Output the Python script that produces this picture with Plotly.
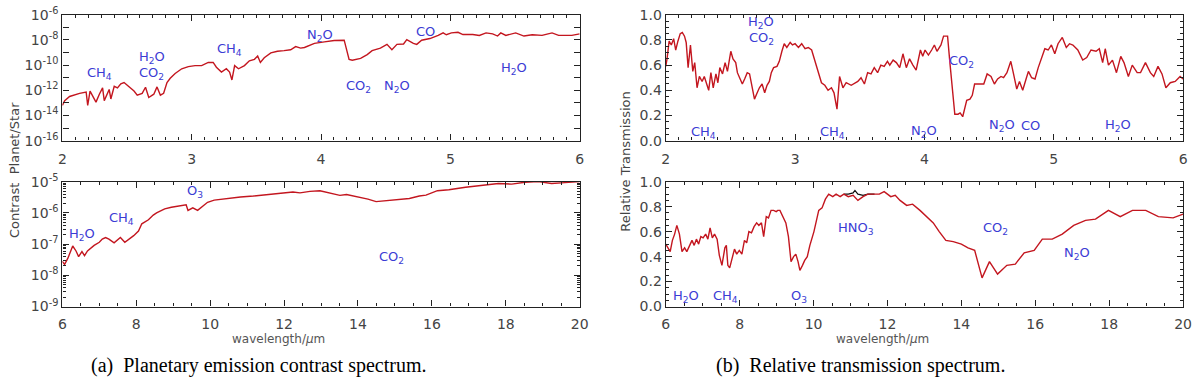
import plotly.graph_objects as go

# ---------------- data ----------------
# (a) top: planetary emission contrast, 2-6 um (log10 of contrast)
em_short_wl = [2.000, 2.018, 2.056, 2.133, 2.184, 2.196, 2.214, 2.235, 2.260, 2.286, 2.311, 2.324, 2.349,
               2.362, 2.375, 2.401, 2.426, 2.452, 2.477, 2.515, 2.554, 2.579, 2.617, 2.643, 2.668, 2.707,
               2.732, 2.758, 2.783, 2.809, 2.834, 2.872, 2.923, 2.974, 3.026, 3.077, 3.128, 3.166, 3.191,
               3.230, 3.268, 3.293, 3.311, 3.332, 3.362, 3.408, 3.446, 3.485, 3.510, 3.531, 3.561, 3.612,
               3.663, 3.714, 3.765, 3.804, 3.842, 3.872, 3.949, 4.026, 4.102, 4.179, 4.217, 4.242, 4.306,
               4.357, 4.395, 4.459, 4.510, 4.548, 4.587, 4.638, 4.663, 4.714, 4.740, 4.778, 4.842, 4.906,
               4.944, 4.969, 5.008, 5.059, 5.097, 5.173, 5.224, 5.276, 5.327, 5.365, 5.390, 5.429, 5.505,
               5.569, 5.633, 5.709, 5.786, 5.837, 5.939, 6.000]
em_short_log = [-13.20, -12.82, -12.49, -12.24, -12.14, -13.20, -12.06, -12.44, -12.94, -12.31, -11.81, -12.82,
                -12.31, -11.93, -12.69, -11.68, -11.81, -11.48, -11.38, -11.68, -12.06, -12.39, -12.24, -11.76,
                -12.57, -12.31, -11.73, -12.39, -12.24, -11.38, -11.05, -10.67, -10.29, -10.12, -10.04, -10.04,
                -9.79, -9.79, -10.17, -10.55, -10.29, -10.55, -11.18, -10.04, -10.29, -10.04, -9.66, -9.54,
                -9.28, -9.79, -9.41, -9.03, -8.90, -8.85, -8.78, -8.53, -8.65, -8.60, -8.27, -8.15, -8.05,
                -8.02, -9.54, -9.61, -9.46, -9.16, -8.85, -8.65, -8.35, -8.78, -8.35, -8.32, -7.97, -8.27,
                -8.35, -8.02, -7.89, -7.64, -7.44, -7.59, -7.44, -7.39, -7.57, -7.57, -7.64, -7.44, -7.52,
                -7.69, -7.44, -7.64, -7.44, -7.69, -7.59, -7.64, -7.44, -7.64, -7.64, -7.52]

# (a) bottom: 6-20 um (log10 of contrast)
em_long_wl = [6.00, 6.06, 6.15, 6.28, 6.37, 6.44, 6.53, 6.60, 6.68, 6.75, 6.86, 7.00, 7.08, 7.17, 7.26, 7.40,
              7.48, 7.57, 7.69, 7.80, 7.93, 8.06, 8.15, 8.33, 8.46, 8.55, 8.64, 8.77, 8.95, 9.13, 9.35, 9.40,
              9.53, 9.66, 9.80, 9.93, 10.11, 10.46, 10.82, 11.17, 11.53, 11.88, 12.24, 12.43, 12.70, 12.97,
              13.24, 13.51, 13.69, 14.04, 14.27, 14.49, 14.76, 15.12, 15.39, 15.66, 15.84, 16.15, 16.46,
              16.91, 17.45, 17.80, 18.16, 18.52, 18.88, 19.24, 19.60, 20.00]
em_long_log = [-7.55, -7.65, -7.45, -7.06, -7.22, -7.40, -7.24, -7.37, -7.22, -7.14, -7.04, -6.94, -6.84, -6.79,
               -6.84, -6.96, -6.89, -6.79, -6.94, -6.84, -6.73, -6.58, -6.35, -6.22, -6.07, -6.00, -5.94, -5.87,
               -5.82, -5.79, -5.74, -5.92, -5.84, -5.92, -5.77, -5.66, -5.59, -5.53, -5.49, -5.46, -5.41, -5.37,
               -5.33, -5.36, -5.31, -5.29, -5.36, -5.44, -5.41, -5.49, -5.56, -5.64, -5.61, -5.56, -5.54, -5.46,
               -5.43, -5.29, -5.26, -5.18, -5.12, -5.06, -5.08, -5.02, -5.00, -5.06, -5.03, -5.00]

# (b) top: relative transmission, 2-6 um
tr_short_wl = [2.000, 2.010, 2.026, 2.043, 2.061, 2.077, 2.094, 2.112, 2.128, 2.145, 2.158, 2.173, 2.191, 2.209,
               2.224, 2.242, 2.260, 2.281, 2.298, 2.316, 2.332, 2.349, 2.367, 2.388, 2.403, 2.418, 2.439, 2.459,
               2.477, 2.503, 2.520, 2.541, 2.554, 2.571, 2.592, 2.610, 2.630, 2.648, 2.668, 2.686, 2.707, 2.724,
               2.745, 2.765, 2.783, 2.801, 2.816, 2.834, 2.860, 2.878, 2.898, 2.916, 2.936, 2.962, 2.980, 3.000,
               3.026, 3.051, 3.077, 3.102, 3.128, 3.153, 3.179, 3.204, 3.230, 3.255, 3.281, 3.301, 3.324, 3.344,
               3.370, 3.395, 3.434, 3.485, 3.510, 3.536, 3.561, 3.587, 3.612, 3.638, 3.663, 3.689, 3.714, 3.732,
               3.758, 3.783, 3.809, 3.834, 3.860, 3.885, 3.911, 3.936, 3.969, 3.987, 4.005, 4.031, 4.056, 4.077,
               4.097, 4.128, 4.148, 4.179, 4.196, 4.217, 4.235, 4.260, 4.276, 4.296, 4.327, 4.352, 4.370, 4.388,
               4.421, 4.459, 4.485, 4.515, 4.541, 4.566, 4.592, 4.612, 4.638, 4.668, 4.689, 4.714, 4.735, 4.760,
               4.786, 4.804, 4.829, 4.855, 4.880, 4.906, 4.931, 4.957, 4.982, 5.008, 5.033, 5.066, 5.097, 5.122,
               5.148, 5.186, 5.224, 5.255, 5.288, 5.327, 5.352, 5.378, 5.398, 5.423, 5.454, 5.485, 5.518, 5.543,
               5.577, 5.607, 5.645, 5.671, 5.709, 5.747, 5.773, 5.806, 5.837, 5.867, 5.901, 5.939, 5.977, 6.000]
tr_short_val = [0.59, 0.65, 0.79, 0.76, 0.81, 0.72, 0.79, 0.85, 0.86, 0.83, 0.78, 0.58, 0.76, 0.55, 0.62, 0.42,
                0.51, 0.47, 0.51, 0.45, 0.40, 0.54, 0.42, 0.53, 0.46, 0.58, 0.53, 0.62, 0.55, 0.71, 0.65, 0.62,
                0.54, 0.50, 0.45, 0.49, 0.54, 0.53, 0.42, 0.33, 0.38, 0.42, 0.45, 0.38, 0.44, 0.47, 0.54, 0.58,
                0.59, 0.63, 0.71, 0.77, 0.74, 0.78, 0.76, 0.77, 0.74, 0.77, 0.73, 0.74, 0.72, 0.63, 0.54, 0.46,
                0.44, 0.40, 0.42, 0.38, 0.25, 0.51, 0.42, 0.46, 0.44, 0.47, 0.50, 0.45, 0.54, 0.53, 0.58, 0.54,
                0.60, 0.59, 0.63, 0.60, 0.64, 0.62, 0.58, 0.69, 0.58, 0.65, 0.60, 0.56, 0.72, 0.67, 0.72, 0.68,
                0.72, 0.76, 0.71, 0.76, 0.83, 0.83, 0.63, 0.40, 0.21, 0.21, 0.22, 0.19, 0.32, 0.33, 0.36, 0.45,
                0.45, 0.45, 0.53, 0.51, 0.45, 0.49, 0.51, 0.50, 0.54, 0.63, 0.53, 0.41, 0.47, 0.40, 0.49, 0.55,
                0.50, 0.49, 0.58, 0.65, 0.73, 0.72, 0.76, 0.69, 0.77, 0.82, 0.74, 0.77, 0.76, 0.72, 0.64, 0.66,
                0.72, 0.71, 0.73, 0.62, 0.73, 0.60, 0.64, 0.54, 0.67, 0.62, 0.51, 0.60, 0.54, 0.54, 0.62, 0.54,
                0.51, 0.59, 0.53, 0.42, 0.46, 0.47, 0.51, 0.49]

# (b) bottom: 6-20 um
tr_long_wl = [6.00, 6.06, 6.12, 6.18, 6.24, 6.30, 6.37, 6.44, 6.51, 6.57, 6.64, 6.71, 6.77, 6.83, 6.89, 6.95,
              7.01, 7.08, 7.14, 7.20, 7.26, 7.32, 7.39, 7.45, 7.52, 7.60, 7.64, 7.68, 7.73, 7.79, 7.86, 7.92,
              7.99, 8.06, 8.13, 8.19, 8.25, 8.32, 8.39, 8.46, 8.52, 8.59, 8.65, 8.72, 8.78, 8.85, 8.92, 8.99,
              9.03, 9.09, 9.16, 9.25, 9.32, 9.39, 9.46, 9.52, 9.58, 9.63, 9.70, 9.76, 9.83, 9.90, 10.01, 10.08,
              10.14, 10.23, 10.32, 10.41, 10.52, 10.61, 10.72, 10.82, 10.94, 11.07, 11.20, 11.34, 11.47, 11.65,
              11.78, 11.91, 12.09, 12.21, 12.34, 12.52, 12.68, 12.88, 13.06, 13.24, 13.40, 13.58, 13.78, 14.00,
              14.18, 14.36, 14.56, 14.76, 14.98, 15.23, 15.46, 15.70, 15.97, 16.19, 16.46, 16.73, 17.04, 17.36,
              17.63, 17.98, 18.30, 18.63, 18.99, 19.33, 19.73, 20.00]
tr_long_val = [0.50, 0.47, 0.44, 0.53, 0.58, 0.65, 0.58, 0.44, 0.47, 0.44, 0.49, 0.53, 0.49, 0.54, 0.50, 0.56,
               0.55, 0.58, 0.54, 0.63, 0.55, 0.58, 0.54, 0.41, 0.33, 0.47, 0.49, 0.33, 0.31, 0.37, 0.46, 0.42,
               0.45, 0.42, 0.53, 0.51, 0.60, 0.59, 0.64, 0.67, 0.65, 0.67, 0.56, 0.72, 0.71, 0.77, 0.77, 0.76,
               0.77, 0.77, 0.73, 0.67, 0.56, 0.36, 0.40, 0.42, 0.36, 0.29, 0.33, 0.37, 0.40, 0.49, 0.60, 0.69,
               0.77, 0.79, 0.86, 0.90, 0.88, 0.90, 0.88, 0.90, 0.88, 0.89, 0.85, 0.88, 0.90, 0.90,
               0.90, 0.92, 0.88, 0.89, 0.85, 0.81, 0.82, 0.77, 0.72, 0.67, 0.60, 0.53, 0.52, 0.50,
               0.47, 0.45, 0.23, 0.36, 0.26, 0.33, 0.34, 0.43, 0.45, 0.54, 0.54, 0.58, 0.65, 0.69,
               0.70, 0.77, 0.72, 0.77, 0.77, 0.72, 0.71, 0.74]
# second (black) model, visible where it departs from the red one
tr_long_alt_wl = [10.82, 10.94, 11.07, 11.12, 11.20, 11.34, 11.47, 11.65]
tr_long_alt_val = [0.90, 0.90, 0.91, 0.93, 0.90, 0.89, 0.90, 0.90]

# molecule labels: (text, wavelength, value)
lab_em_short = [("CH<sub>4</sub>", 2.29, -10.67), ("H<sub>2</sub>O", 2.69, -9.42), ("CO<sub>2</sub>", 2.69, -10.66),
                ("CH<sub>4</sub>", 3.29, -8.78), ("N<sub>2</sub>O", 3.99, -7.64), ("CO<sub>2</sub>", 4.29, -11.68),
                ("N<sub>2</sub>O", 4.59, -11.68), ("CO", 4.81, -7.34), ("H<sub>2</sub>O", 5.49, -10.24)]
lab_em_long = [("H<sub>2</sub>O", 6.53, -6.68), ("CH<sub>4</sub>", 7.61, -6.17), ("O<sub>3</sub>", 9.60, -5.31),
               ("CO<sub>2</sub>", 14.9, -7.42)]
lab_tr_short = [("H<sub>2</sub>O", 2.74, 0.94), ("CO<sub>2</sub>", 2.74, 0.81), ("CH<sub>4</sub>", 2.29, 0.062),
                ("CH<sub>4</sub>", 3.29, 0.062), ("N<sub>2</sub>O", 4.00, 0.069), ("CO<sub>2</sub>", 4.29, 0.628),
                ("N<sub>2</sub>O", 4.60, 0.121), ("CO", 4.82, 0.121), ("H<sub>2</sub>O", 5.50, 0.121)]
lab_tr_long = [("H<sub>2</sub>O", 6.54, 0.077), ("CH<sub>4</sub>", 7.63, 0.077), ("O<sub>3</sub>", 9.61, 0.077),
               ("HNO<sub>3</sub>", 11.16, 0.628), ("CO<sub>2</sub>", 14.93, 0.621), ("N<sub>2</sub>O", 17.13, 0.428)]

log_ticks_short = [1e-6, 1e-7, 1e-8, 1e-9, 1e-10, 1e-11, 1e-12, 1e-13, 1e-14, 1e-15, 1e-16]
log_text_short = ["10<sup>-6</sup>", "", "10<sup>-8</sup>", "", "10<sup>-10</sup>", "", "10<sup>-12</sup>", "",
                  "10<sup>-14</sup>", "", "10<sup>-16</sup>"]
log_ticks_long = [1e-5, 1e-6, 1e-7, 1e-8, 1e-9]
log_text_long = ["10<sup>-5</sup>", "10<sup>-6</sup>", "10<sup>-7</sup>", "10<sup>-8</sup>", "10<sup>-9</sup>"]

# ---------------- figure ----------------
RED = "#c3161f"
BLUE = "#3b3bd4"
TICKFONT = dict(family="DejaVu Sans", size=14, color="#444444")

fig = go.Figure()
em_short_y = [10 ** v for v in em_short_log]
em_long_y = [10 ** v for v in em_long_log]
fig.add_trace(go.Scatter(x=em_short_wl, y=em_short_y, mode="lines", line=dict(color=RED, width=1.4),
                         xaxis="x", yaxis="y", showlegend=False))
fig.add_trace(go.Scatter(x=em_long_wl, y=em_long_y, mode="lines", line=dict(color=RED, width=1.4),
                         xaxis="x2", yaxis="y2", showlegend=False))
fig.add_trace(go.Scatter(x=tr_short_wl, y=tr_short_val, mode="lines", line=dict(color=RED, width=1.4),
                         xaxis="x3", yaxis="y3", showlegend=False))
fig.add_trace(go.Scatter(x=tr_long_alt_wl, y=tr_long_alt_val, mode="lines", line=dict(color="#111111", width=1.2),
                         xaxis="x4", yaxis="y4", showlegend=False))
fig.add_trace(go.Scatter(x=tr_long_wl, y=tr_long_val, mode="lines", line=dict(color=RED, width=1.4),
                         xaxis="x4", yaxis="y4", showlegend=False))

W, H = 1200, 388
def xd(a, b):
    return [a / W, b / W]
def yd(top, bottom):
    return [1 - bottom / H, 1 - top / H]

common = dict(showline=True, linecolor="#222222", linewidth=1.3, mirror="ticks", ticks="inside",
              tickcolor="#222222", ticklen=6, tickwidth=1, showgrid=False, zeroline=False,
              tickfont=TICKFONT)

xa_short = dict(common, range=[2, 6], tickvals=[2, 3, 4, 5, 6], ticklabelstandoff=5,
                minor=dict(ticks="inside", ticklen=3, dtick=0.1, tickcolor="#222222"))
xa_long = dict(common, range=[6, 20], tickvals=[6, 8, 10, 12, 14, 16, 18, 20], ticklabelstandoff=4,
               minor=dict(ticks="inside", ticklen=3, dtick=0.5, tickcolor="#222222"))
ya_lin = dict(common, range=[0, 1.0], tickvals=[0, 0.2, 0.4, 0.6, 0.8, 1.0], tickformat=".1f",
              minor=dict(ticks="inside", ticklen=3, dtick=0.05, tickcolor="#222222"))

fig.update_layout(
    width=W, height=H, margin=dict(l=0, r=0, t=0, b=0),
    paper_bgcolor="white", plot_bgcolor="white",
    xaxis=dict(xa_short, domain=xd(59, 582), anchor="y"),
    yaxis=dict(common, type="log", range=[-16, -6], tickvals=log_ticks_short, ticktext=log_text_short,
               domain=yd(5, 137), anchor="x"),
    xaxis2=dict(xa_long, domain=xd(59, 582), anchor="y2"),
    yaxis2=dict(common, type="log", range=[-9, -5], tickvals=log_ticks_long, ticktext=log_text_long,
                minor=dict(ticks="inside", ticklen=3, dtick="D1", tickcolor="#222222"),
                domain=yd(180, 311), anchor="x2"),
    xaxis3=dict(xa_short, domain=xd(669, 1192), anchor="y3"),
    yaxis3=dict(ya_lin, domain=yd(5, 137), anchor="x3"),
    xaxis4=dict(xa_long, domain=xd(669, 1192), anchor="y4"),
    yaxis4=dict(ya_lin, domain=yd(180, 311), anchor="x4"),
)

annots = []
labfont = dict(family="DejaVu Sans", size=13, color=BLUE)
for labs, xr, yr in [(lab_em_short, "x", "y"), (lab_em_long, "x2", "y2"),
                     (lab_tr_short, "x3", "y3"), (lab_tr_long, "x4", "y4")]:
    for t, xv, yv in labs:
        annots.append(dict(text=t, x=xv, y=yv, xref=xr, yref=yr, showarrow=False, font=labfont,
                           xanchor="center", yanchor="middle"))

axfont = dict(family="DejaVu Sans", size=13, color="#444444")
annots += [
    dict(text="Contrast&nbsp; Planet/Star", x=10 / W, y=1 - 168 / H, xref="paper", yref="paper",
         textangle=-90, showarrow=False, font=axfont, xanchor="center", yanchor="middle"),
    dict(text="Relative Transmission", x=628 / W, y=1 - 159 / H, xref="paper", yref="paper",
         textangle=-90, showarrow=False, font=axfont, xanchor="center", yanchor="middle"),
    dict(text="wavelength/<i>μ</i>m", x=278 / W, y=1 - 345 / H, xref="paper", yref="paper",
         showarrow=False, font=dict(family="DejaVu Sans", size=12, color="#555555"),
         xanchor="center", yanchor="middle"),
    dict(text="wavelength/<i>μ</i>m", x=888 / W, y=1 - 345 / H, xref="paper", yref="paper",
         showarrow=False, font=dict(family="DejaVu Sans", size=12, color="#555555"),
         xanchor="center", yanchor="middle"),
    dict(text="(a)&nbsp; Planetary emission contrast spectrum.", x=257 / W, y=1 - 373 / H,
         xref="paper", yref="paper", showarrow=False,
         font=dict(family="Liberation Serif", size=20, color="black"), xanchor="center", yanchor="middle"),
    dict(text="(b)&nbsp; Relative transmission spectrum.", x=866 / W, y=1 - 373 / H,
         xref="paper", yref="paper", showarrow=False,
         font=dict(family="Liberation Serif", size=20, color="black"), xanchor="center", yanchor="middle"),
]
fig.update_layout(annotations=annots)

# page body has a default 8px margin; remove it so the figure sits at the window origin
fig.write_html("out.html", config={"displayModeBar": False},
               post_script="document.body.style.margin='0px';")
